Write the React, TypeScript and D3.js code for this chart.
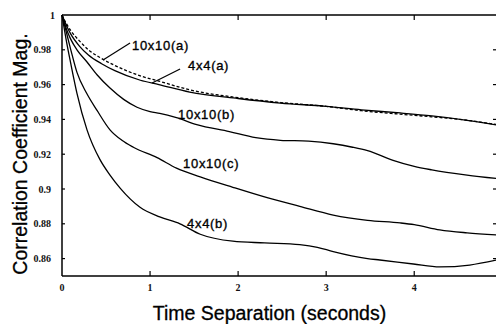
import * as d3 from 'd3'

// Correlation coefficient magnitude vs time separation, five curves.
const XS_A = [0, 0.05, 0.1, 0.2, 0.3, 0.45, 0.6, 0.89, 1.1, 1.45, 2.0, 2.48, 3.0, 3.4, 3.84, 4.2, 4.6, 4.94]
const SOLID_4x4A = [1, 0.994, 0.989, 0.982, 0.977, 0.972, 0.968, 0.9625, 0.96, 0.9557, 0.952, 0.9494, 0.9475, 0.9455, 0.9437, 0.942, 0.9395, 0.9368]
const DASHED_10x10A = [1, 0.995, 0.991, 0.985, 0.98, 0.975, 0.971, 0.965, 0.962, 0.957, 0.9525, 0.9497, 0.9475, 0.945, 0.943, 0.9415, 0.9395, 0.937]

const XS_B = [0, 0.05, 0.1, 0.17, 0.284, 0.4, 0.545, 0.7, 0.852, 1.0, 1.11, 1.3, 1.53, 1.9, 2.2, 2.48, 2.8, 3.08, 3.3, 3.47, 3.76, 4.0, 4.2, 4.6, 4.94]
const SOLID_10x10B = [1, 0.992, 0.986, 0.98, 0.973, 0.9655, 0.958, 0.9515, 0.947, 0.9445, 0.9435, 0.941, 0.937, 0.933, 0.9295, 0.928, 0.9275, 0.926, 0.924, 0.922, 0.9165, 0.913, 0.911, 0.908, 0.906]

const XS_C = [0, 0.05, 0.1, 0.17, 0.28, 0.4, 0.545, 0.68, 0.81, 1.08, 1.3, 1.57, 1.94, 2.33, 2.7, 3.08, 3.47, 3.84, 4.0, 4.29, 4.6, 4.94]
const SOLID_10x10C = [1, 0.99, 0.98, 0.967, 0.955, 0.945, 0.934, 0.928, 0.924, 0.918, 0.912, 0.907, 0.901, 0.895, 0.89, 0.885, 0.882, 0.8805, 0.8795, 0.8765, 0.8748, 0.8736]

const XS_D = [0, 0.05, 0.1, 0.17, 0.284, 0.43, 0.545, 0.66, 0.886, 1.11, 1.34, 1.57, 1.94, 2.3, 2.7, 2.9, 3.08, 3.47, 3.61, 3.99, 4.29, 4.63, 4.94]
const SOLID_4x4B = [1, 0.985, 0.972, 0.955, 0.934, 0.917, 0.908, 0.9005, 0.8895, 0.884, 0.88, 0.874, 0.87, 0.869, 0.868, 0.8665, 0.864, 0.86, 0.8592, 0.8569, 0.8552, 0.8563, 0.8592]

const X_TICKS = [0, 1, 2, 3, 4]
const Y_TICKS = [0.86, 0.88, 0.9, 0.92, 0.94, 0.96, 0.98, 1]

// curve labels: text, anchor (data units), optional leader line
const LABELS: { text: string; x: number; y: number; leader?: [number, number, number, number] }[] = [
  { text: '10x10(a)', x: 0.795, y: 0.9799, leader: [0.466, 0.9741, 0.773, 0.9839] },
  { text: '4x4(a)', x: 1.432, y: 0.9684, leader: [1.023, 0.9609, 1.341, 0.969] },
  { text: '10x10(b)', x: 1.318, y: 0.9402 },
  { text: '10x10(c)', x: 1.375, y: 0.912 },
  { text: '4x4(b)', x: 1.42, y: 0.8776 },
]

const W = 496
const H = 324
const SANS = 'Arial, "Liberation Sans", Helvetica, sans-serif'
const SERIF = '"Times New Roman", "Liberation Serif", serif'

export default function App() {
  const x = d3.scaleLinear().domain([0, 4.94]).range([62, 497])
  const y = d3.scaleLinear().domain([0.85, 1]).range([276, 15])
  const mk = d3
    .line<[number, number]>()
    .x((d) => x(d[0]))
    .y((d) => y(d[1]))
    .curve(d3.curveMonotoneX)
  const series = [
    { xs: XS_A, ys: DASHED_10x10A, dash: '3,2' },
    { xs: XS_A, ys: SOLID_4x4A },
    { xs: XS_B, ys: SOLID_10x10B },
    { xs: XS_C, ys: SOLID_10x10C },
    { xs: XS_D, ys: SOLID_4x4B },
  ]
  const [x0, x1] = x.range()
  const [yb, yt] = y.range()

  return (
    <svg
      width={W}
      height={H}
      viewBox={`0 0 ${W} ${H}`}
      style={{ position: 'absolute', left: 0, top: 0, background: '#fff' }}
    >
      {/* frame */}
      <g stroke="#000" strokeWidth={1.5} fill="none">
        <line x1={x0} x2={x1} y1={yt} y2={yt} />
        <line x1={x0} x2={x1} y1={yb} y2={yb} />
        <line x1={x0} x2={x0} y1={yt} y2={yb} />
        <line x1={x1} x2={x1} y1={yt} y2={yb} />
      </g>
      <g stroke="#000" strokeWidth={1.2}>
        {X_TICKS.filter((t) => t > 0).map((t) => (
          <g key={t}>
            <line x1={x(t)} x2={x(t)} y1={yb} y2={yb - 5} />
            <line x1={x(t)} x2={x(t)} y1={yt} y2={yt + 5} />
          </g>
        ))}
        {Y_TICKS.filter((t) => t < 1).map((t) => (
          <g key={t}>
            <line x1={x0} x2={x0 + 3} y1={y(t)} y2={y(t)} />
            <line x1={x1} x2={x1 - 4} y1={y(t)} y2={y(t)} />
          </g>
        ))}
      </g>
      <g fontFamily={SERIF} fontWeight="bold" fontSize={10} fill="#111">
        {X_TICKS.map((t) => (
          <text key={t} x={x(t)} y={291} textAnchor="middle">
            {t}
          </text>
        ))}
        {Y_TICKS.map((t) => (
          <text key={t} x={t === 1 ? 55 : 51} y={y(t) + 3.5} textAnchor="end">
            {String(t)}
          </text>
        ))}
      </g>

      {series.map((s, i) => (
        <path
          key={i}
          d={mk(s.xs.map((v, j) => [v, s.ys[j]] as [number, number])) ?? ''}
          fill="none"
          stroke="#000"
          strokeWidth={1.3}
          strokeDasharray={s.dash}
        />
      ))}

      <g fontFamily={SANS} fontSize={13} fill="#000" stroke="#000" strokeWidth={0.35} letterSpacing={0.7}>
        {LABELS.map((l) => (
          <g key={l.text}>
            {l.leader && (
              <line
                x1={x(l.leader[0])}
                y1={y(l.leader[1])}
                x2={x(l.leader[2])}
                y2={y(l.leader[3])}
                stroke="#000"
                strokeWidth={1.2}
              />
            )}
            <text x={x(l.x)} y={y(l.y)}>
              {l.text}
            </text>
          </g>
        ))}
      </g>

      <g fontFamily={SANS} fill="#000" stroke="#000" strokeWidth={0.3}>
        <text x={269.5} y={320} textAnchor="middle" fontSize={19.5}>
          Time Separation (seconds)
        </text>
        <text transform="translate(27,154) rotate(-90)" textAnchor="middle" fontSize={19.5}>
          Correlation Coefficient Mag.
        </text>
      </g>
    </svg>
  )
}
